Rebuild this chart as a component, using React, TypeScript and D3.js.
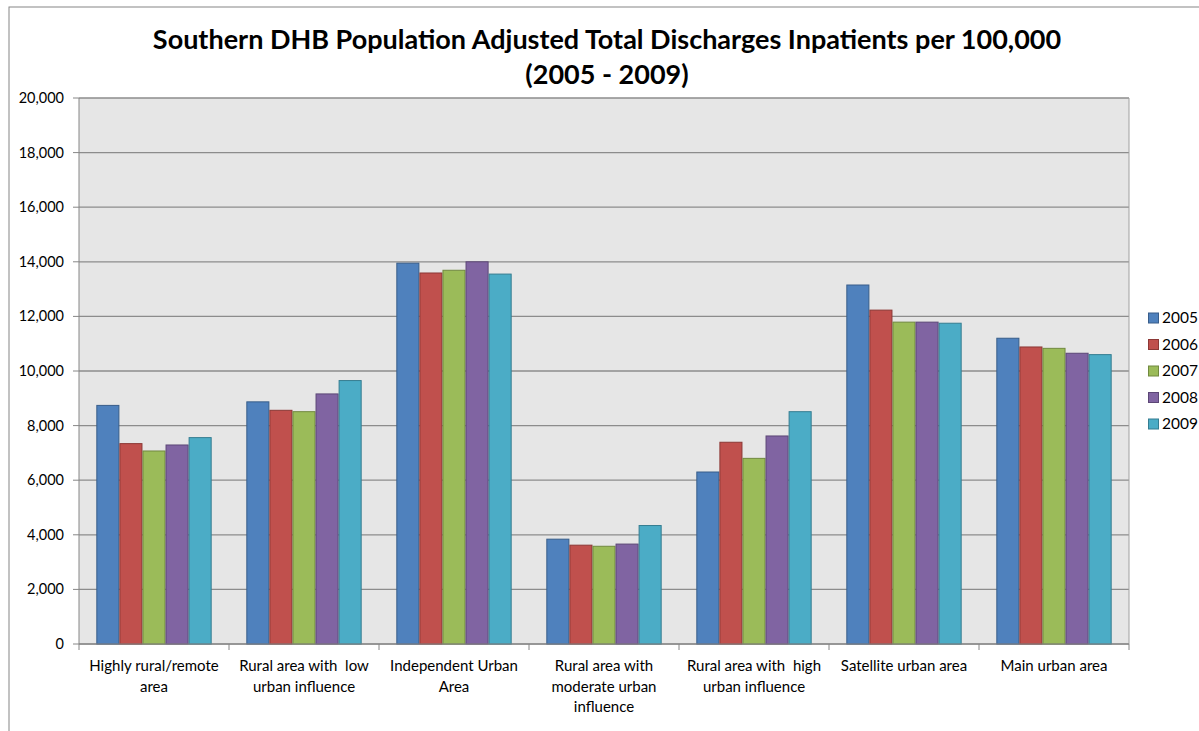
import React from "react";
import * as d3 from "d3";

const categories = [
  "Highly rural/remote area",
  "Rural area with low urban influence",
  "Independent Urban Area",
  "Rural area with moderate urban influence",
  "Rural area with high urban influence",
  "Satellite urban area",
  "Main urban area",
];

// tick labels as wrapped in the original
const categoryLines = [
  ["Highly rural/remote", "area"],
  ["Rural area with  low", "urban influence"],
  ["Independent Urban", "Area"],
  ["Rural area with", "moderate urban", "influence"],
  ["Rural area with  high", "urban influence"],
  ["Satellite urban area"],
  ["Main urban area"],
];

const years = ["2005", "2006", "2007", "2008", "2009"];

const values2005 = [8740, 8870, 13950, 3840, 6300, 13150, 11200];
const values2006 = [7340, 8560, 13590, 3620, 7390, 12230, 10880];
const values2007 = [7070, 8510, 13690, 3580, 6800, 11790, 10830];
const values2008 = [7290, 9160, 14000, 3660, 7620, 11790, 10650];
const values2009 = [7560, 9650, 13550, 4340, 8510, 11750, 10600];

const seriesValues = [values2005, values2006, values2007, values2008, values2009];

const yTicks = [0, 2000, 4000, 6000, 8000, 10000, 12000, 14000, 16000, 18000, 20000];

const fills = ["#4F81BD", "#C0504D", "#9BBB59", "#8064A2", "#4BACC6"];
const strokes = ["#385D8A", "#8C3836", "#71893F", "#5C4776", "#357D91"];

const W = 1199;
const H = 731;
const plot = { left: 79, right: 1129, top: 98, bottom: 644 };
const font = "Lato, 'Open Sans', sans-serif";

export default function App() {
  const x0 = d3
    .scaleBand<number>()
    .domain(categories.map((_, i) => i))
    .range([plot.left, plot.right])
    .paddingInner(0.231)
    .paddingOuter(0.1155);

  const x1 = d3
    .scaleBand<number>()
    .domain(years.map((_, i) => i))
    .range([0, x0.bandwidth()])
    .padding(0);

  const y = d3.scaleLinear().domain([0, 20000]).range([plot.bottom, plot.top]);
  const fmt = d3.format(",");
  const step = (plot.right - plot.left) / categories.length;

  return (
    <svg
      width={W}
      height={H}
      style={{ position: "absolute", left: 0, top: 0, background: "#fff" }}
    >
      <rect x={9} y={7} width={W} height={H} fill="#fff" stroke="#868686" strokeWidth={1} />

      {/* title */}
      <text
        x={607}
        y={49}
        textAnchor="middle"
        fontFamily={font}
        fontWeight="bold"
        fontSize={27}
        fill="#000"
      >
        Southern DHB Population Adjusted Total Discharges Inpatients per 100,000
      </text>
      <text
        x={607}
        y={84}
        textAnchor="middle"
        fontFamily={font}
        fontWeight="bold"
        fontSize={27}
        fill="#000"
      >
        (2005 - 2009)
      </text>

      {/* plot background */}
      <rect
        x={plot.left}
        y={plot.top}
        width={plot.right - plot.left}
        height={plot.bottom - plot.top}
        fill="#E6E6E6"
      />

      {/* gridlines */}
      {yTicks.map((t) => (
        <line
          key={t}
          x1={plot.left}
          x2={plot.right}
          y1={y(t)}
          y2={y(t)}
          stroke="#8C8C8C"
          strokeWidth={1.3}
        />
      ))}
      <line x1={plot.right} x2={plot.right} y1={plot.top} y2={plot.bottom} stroke="#A0A0A0" />

      {/* bars */}
      {categories.map((c, ci) => (
        <g key={c} transform={`translate(${x0(ci)},0)`}>
          {seriesValues.map((vals, si) => (
            <rect
              key={si}
              x={x1(si)! + 0.5}
              y={y(vals[ci])}
              width={x1.bandwidth() - 1}
              height={y(0) - y(vals[ci])}
              fill={fills[si]}
              stroke={strokes[si]}
              strokeWidth={1}
            />
          ))}
        </g>
      ))}

      {/* y axis */}
      <line x1={plot.left} x2={plot.left} y1={plot.top} y2={plot.bottom} stroke="#868686" />
      {yTicks.map((t) => (
        <g key={t}>
          <line x1={plot.left - 6} x2={plot.left} y1={y(t)} y2={y(t)} stroke="#868686" />
          <text
            x={64}
            y={y(t)}
            dy="0.35em"
            textAnchor="end"
            fontFamily={font}
            fontSize={14.5}
            fill="#000"
          >
            {fmt(t)}
          </text>
        </g>
      ))}

      {/* x axis */}
      <line x1={plot.left} x2={plot.right} y1={plot.bottom} y2={plot.bottom} stroke="#868686" />
      {d3.range(categories.length + 1).map((i) => (
        <line
          key={i}
          x1={plot.left + i * step}
          x2={plot.left + i * step}
          y1={plot.bottom}
          y2={plot.bottom + 6}
          stroke="#868686"
        />
      ))}
      {categoryLines.map((lines, ci) => (
        <text
          key={ci}
          x={x0(ci)! + x0.bandwidth() / 2}
          y={671}
          textAnchor="middle"
          fontFamily={font}
          fontSize={15}
          fill="#000"
        >
          {lines.map((l, li) => (
            <tspan key={li} x={x0(ci)! + x0.bandwidth() / 2} dy={li === 0 ? 0 : 20.5} style={{ whiteSpace: "pre" }}>
              {l}
            </tspan>
          ))}
        </text>
      ))}

      {/* legend */}
      {years.map((yr, i) => (
        <g key={yr} transform={`translate(1148,${318 + i * 26.5})`}>
          <rect x={0.5} y={-5} width={10} height={10} fill={fills[i]} stroke={strokes[i]} />
          <text x={14} y={0} dy="0.35em" fontFamily={font} fontSize={15.5} fill="#000">
            {yr}
          </text>
        </g>
      ))}
    </svg>
  );
}
